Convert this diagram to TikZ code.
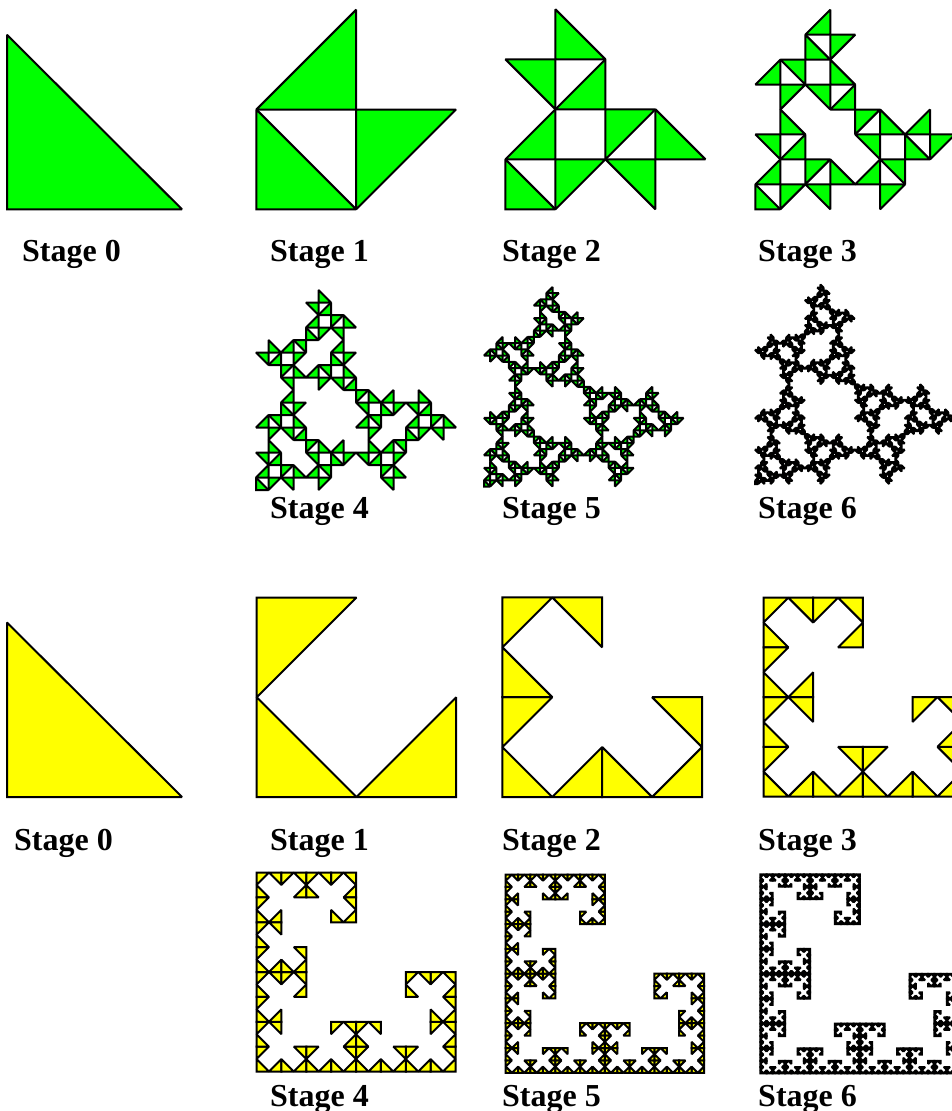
\documentclass[tikz,border=0pt]{standalone}
\usepackage{fontspec}
\setmainfont{Liberation Serif}
\definecolor{gfill}{RGB}{0,255,0}
\definecolor{yfill}{RGB}{255,255,0}
\tikzset{
  tricell/.style={draw=black,line width=2pt,line join=miter,miter limit=1.5},
  stagelabel/.style={anchor=base west,inner sep=0pt,font=\fontsize{32pt}{36pt}\selectfont\bfseries},
}
% #1 #2 corner, #3 #4 first leg, #5 #6 second leg
\newcommand\onetri[6]{%
  \path[tricell] (#1,#2) -- (\fpeval{#1+#3},\fpeval{#2+#4}) -- (\fpeval{#1+#5},\fpeval{#2+#6}) -- cycle;}
\newcommand\calltri[8]{% macro, level, corner, legs
  \edef\tmpcall{\noexpand#1{#2}{\fpeval{#3}}{\fpeval{#4}}{\fpeval{#5}}{\fpeval{#6}}{\fpeval{#7}}{\fpeval{#8}}}\tmpcall}
\newcommand\greentri[7]{%
  \ifnum#1=0 \onetri{#2}{#3}{#4}{#5}{#6}{#7}\else
    \begingroup
    \edef\lv{\the\numexpr#1-1\relax}%
    \calltri\greentri{\lv}{#2}{#3}{#4/2}{#5/2}{#6/2}{#7/2}%
    \calltri\greentri{\lv}{#2+#4/2+#6/2}{#3+#5/2+#7/2}{-#4/2}{-#5/2}{#6/2}{#7/2}%
    \calltri\greentri{\lv}{#2+#4/2+#6/2}{#3+#5/2+#7/2}{#4/2}{#5/2}{-#6/2}{-#7/2}%
    \endgroup
  \fi}
\newcommand\yellowtri[7]{%
  \ifnum#1=0 \onetri{#2}{#3}{#4}{#5}{#6}{#7}\else
    \begingroup
    \edef\lv{\the\numexpr#1-1\relax}%
    \calltri\yellowtri{\lv}{#2}{#3}{#4/2}{#5/2}{#6/2}{#7/2}%
    \calltri\yellowtri{\lv}{#2+#6}{#3+#7}{#4/2}{#5/2}{-#6/2}{-#7/2}%
    \calltri\yellowtri{\lv}{#2+#4}{#3+#5}{-#4/2}{-#5/2}{#6/2}{#7/2}%
    \endgroup
  \fi}
\begin{document}
\begin{tikzpicture}[x=1pt,y=-1pt]
\path[use as bounding box,clip] (0,0) rectangle (952,1111);
\begin{scope}[tricell/.append style={fill=gfill}]
  \greentri{0}{7}{209.3}{175}{0}{0}{-174.5}
  \greentri{1}{256.4}{209.3}{199.6}{0}{0}{-199.6}
  \greentri{2}{505.4}{209.3}{200}{0}{0}{-200}
  \greentri{3}{755.4}{209.3}{199.6}{0}{0}{-199.6}
  \greentri{4}{256}{490}{200}{0}{0}{-200}
  \greentri{5}{484}{486.5}{199.5}{0}{0}{-199.5}
  \greentri{6}{755}{484}{199.5}{0}{0}{-199.5}
\end{scope}
\begin{scope}[tricell/.append style={fill=yfill}]
  \yellowtri{0}{7}{797}{175}{0}{0}{-174.5}
  \yellowtri{1}{256.7}{797}{199.5}{0}{0}{-199.5}
  \yellowtri{2}{502.4}{797}{199.6}{0}{0}{-199.6}
  \yellowtri{3}{763.5}{796.5}{198.8}{0}{0}{-198.8}
  \yellowtri{4}{256.5}{1071.5}{199}{0}{0}{-199}
  \yellowtri{5}{505.7}{1072.8}{198.3}{0}{0}{-198.3}
  \yellowtri{6}{760.3}{1073.3}{199}{0}{0}{-199}
\end{scope}
\node[stagelabel] (g0) at (22,261.5) {Stage 0};
\node[stagelabel] (g1) at (270,261.5) {Stage 1};
\node[stagelabel] (g2) at (502,261.5) {Stage 2};
\node[stagelabel] (g3) at (758,261.5) {Stage 3};
\node[stagelabel] (g4) at (270,518.5) {Stage 4};
\node[stagelabel] (g5) at (502,518.5) {Stage 5};
\node[stagelabel] (g6) at (758,518.5) {Stage 6};
\node[stagelabel] (y0) at (14,850) {Stage 0};
\node[stagelabel] (y1) at (270,850) {Stage 1};
\node[stagelabel] (y2) at (502,850) {Stage 2};
\node[stagelabel] (y3) at (758,850) {Stage 3};
\node[stagelabel] (y4) at (270,1106) {Stage 4};
\node[stagelabel] (y5) at (502,1106) {Stage 5};
\node[stagelabel] (y6) at (758,1106) {Stage 6};
\end{tikzpicture}
\end{document}
